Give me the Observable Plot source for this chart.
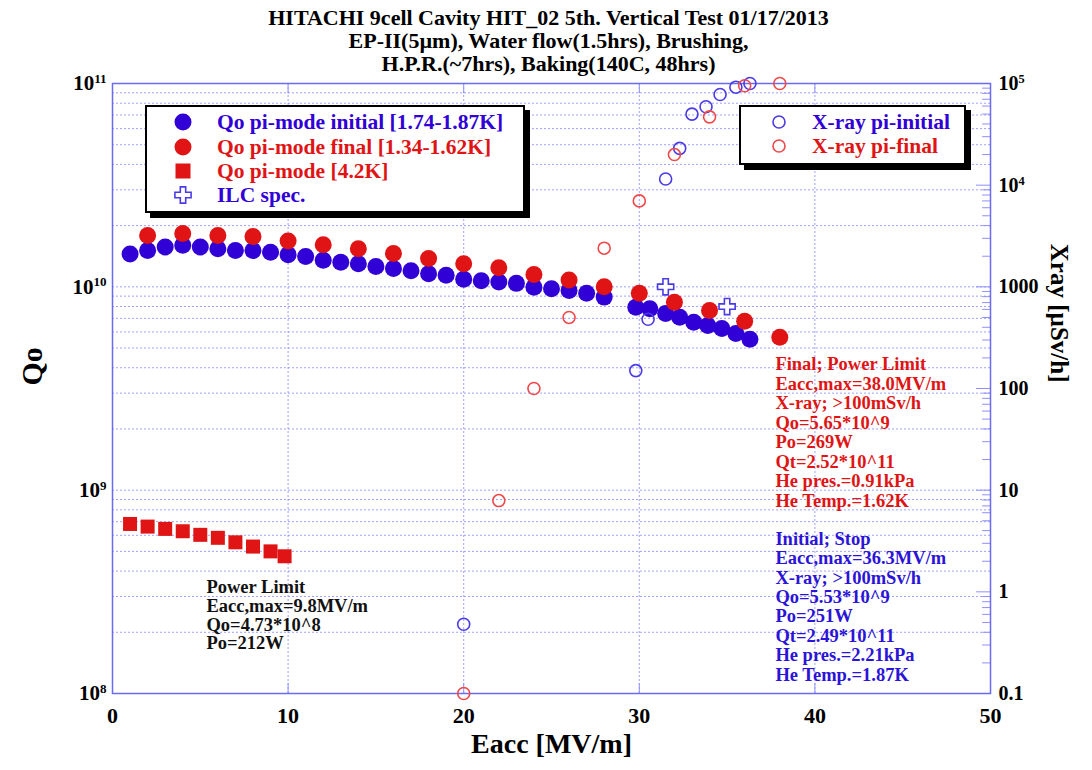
<!DOCTYPE html>
<html><head><meta charset="utf-8">
<script src="https://cdn.jsdelivr.net/npm/d3@7"></script>
<script src="https://cdn.jsdelivr.net/npm/@observablehq/plot@0.6"></script>
<style>
body{margin:0;background:#fff;}
#wrap{position:relative;width:1092px;height:770px;font-family:"Liberation Serif","Times New Roman",serif;}
.leg{position:absolute;box-sizing:border-box;background:#fff;border:2px solid #000;box-shadow:5px 5px 0 #000;}
.row{position:absolute;font-weight:bold;font-size:21.5px;line-height:20px;white-space:nowrap;}
.sym{position:absolute;overflow:visible;}
</style></head><body><div id="wrap"></div>
<script>
// ---------- data ----------
const titleLines = [
  "HITACHI 9cell Cavity HIT_02 5th. Vertical Test 01/17/2013",
  "EP-II(5\u00b5m), Water flow(1.5hrs), Brushing,",
  "H.P.R.(~7hrs), Baking(140C, 48hrs)"
];
const xTicks = [0, 10, 20, 30, 40, 50];
const qTicks = [1e8, 1e9, 1e10, 1e11];
const xrayTicks = [0.1, 1, 10, 100, 1000, 1e4, 1e5];
const xrayTickLabels = ["0.1", "1", "10", "100", "1000", "10^4", "10^5"];

// Qo pi-mode initial [1.74-1.87K]
const initE = [1,2,3,4,5,6,7,8,9,10,11,12,13,14,15,16,17,18,19,20,21,22,23,24,25,26,27,28,
  29.8,30.6,31.5,32.3,33.1,33.9,34.7,35.5,36.3];
const initQ = [1.45e10,1.51e10,1.57e10,1.60e10,1.57e10,1.54e10,1.51e10,1.51e10,1.48e10,1.44e10,
  1.41e10,1.35e10,1.32e10,1.30e10,1.26e10,1.23e10,1.20e10,1.16e10,1.14e10,1.09e10,
  1.07e10,1.055e10,1.04e10,9.96e9,9.78e9,9.59e9,9.3e9,8.9e9,
  7.94e9,7.8e9,7.4e9,7.08e9,6.69e9,6.45e9,6.24e9,5.89e9,5.53e9];
// Qo pi-mode final [1.34-1.62K]
const finalE = [2,4,6,8,10,12,14,16,18,20,22,24,26,28,30,32,34,36,38];
const finalQ = [1.79e10,1.83e10,1.79e10,1.77e10,1.68e10,1.61e10,1.54e10,1.46e10,1.38e10,1.30e10,
  1.24e10,1.15e10,1.08e10,1.0e10,9.3e9,8.4e9,7.64e9,6.77e9,5.65e9];
// Qo pi-mode [4.2K]
const k42E = [1,2,3,4,5,6,7,8,9,9.8];
const k42Q = [6.82e8,6.62e8,6.45e8,6.28e8,6.03e8,5.83e8,5.54e8,5.28e8,5.0e8,4.73e8];
// ILC spec
const ilcE = [31.5, 35];
const ilcQ = [1e10, 8e9];
// X-ray [uSv/h]
const xrInitE = [20, 29.8, 30.5, 31.5, 32.3, 33.0, 33.8, 34.6, 35.5, 36.3];
const xrInitV = [0.48, 150, 480, 1.15e4, 2.3e4, 5.0e4, 5.9e4, 7.8e4, 9.2e4, 1.0e5];
const xrFinalE = [20, 22, 24, 26, 28, 30, 32, 34, 36, 38];
const xrFinalV = [0.1, 7.9, 100, 500, 2400, 7000, 2.0e4, 4.7e4, 9.5e4, 1.0e5];

const noteK42 = "Power Limit\nEacc,max=9.8MV/m\nQo=4.73*10^8\nPo=212W";
const noteFinal = "Final; Power Limit\nEacc,max=38.0MV/m\nX-ray; >100mSv/h\nQo=5.65*10^9\nPo=269W\nQt=2.52*10^11\nHe pres.=0.91kPa\nHe Temp.=1.62K";
const noteInit = "Initial; Stop\nEacc,max=36.3MV/m\nX-ray; >100mSv/h\nQo=5.53*10^9\nPo=251W\nQt=2.49*10^11\nHe pres.=2.21kPa\nHe Temp.=1.87K";

// ---------- helpers ----------
const BLUE = "#3000d6", RED = "#e01414", BLUE_O = "#4a3be6", RED_O = "#f04848";
const GRID = "#8f8fff";
// right axis (0.1 .. 1e5, 6 decades) shares the frame with left (1e8 .. 1e11, 3 decades)
const x2q = v => Math.pow(10, 8.5) * Math.sqrt(v);
const zip = (a, b) => a.map((v, i) => ({x: v, y: b[i]}));
const xrayLabel = d => {
  const i = xrayTicks.findIndex(v => Math.abs(x2q(v) - d) / d < 1e-6);
  return i < 0 ? "" : xrayTickLabels[i];
};

const leftMinor = [];
for (let n = 8; n <= 10; n++) for (let k = 1; k <= 9; k++) {
  const v = k * Math.pow(10, n); if (v > 1e8 && v < 1e11) leftMinor.push(v);
}
const rightMinor = [];
for (let n = -1; n <= 4; n++) for (let k = 2; k <= 9; k++) rightMinor.push(x2q(k * Math.pow(10, n)));

const chart = Plot.plot({
  width: 1092, height: 770,
  marginLeft: 112, marginRight: 102, marginTop: 83, marginBottom: 77,
  x: {domain: [0, 50]},
  y: {type: "log", domain: [1e8, 1e11]},
  style: {fontFamily: "Liberation Serif, Times New Roman, serif", background: "white", color: "black", overflow: "visible"},
  marks: [
    Plot.gridY(leftMinor, {stroke: GRID, strokeOpacity: 0.85, strokeDasharray: "2,2"}),
    Plot.gridX([10, 20, 30, 40], {stroke: GRID, strokeOpacity: 0.85, strokeDasharray: "2,2"}),
    Plot.ruleY(rightMinor, {x1: 49.55, x2: 50, stroke: GRID}),
    Plot.ruleY(xrayTicks.map(x2q), {x1: 49.2, x2: 50, stroke: GRID}),
    Plot.ruleX([10, 20, 30, 40], {y1: 1e8, y2: 1.12e8, stroke: GRID}),
    Plot.ruleX([10, 20, 30, 40], {y1: 1e11, y2: 0.89e11, stroke: GRID}),
    Plot.frame({stroke: "#6a6af2", strokeWidth: 1.5}),
    Plot.axisX({ticks: xTicks, tickSize: 0, tickPadding: 14, fontSize: 22, fontWeight: "bold", label: null}),
    Plot.axisY({anchor: "left", ticks: qTicks, tickSize: 0, tickPadding: 6, fontSize: 21, fontWeight: "bold", label: null,
      tickFormat: d => "10^" + Math.round(Math.log10(d))}),
    Plot.axisY({anchor: "right", ticks: xrayTicks.map(x2q), tickSize: 0, tickPadding: 8, fontSize: 20, fontWeight: "bold", label: null,
      tickFormat: xrayLabel}),
    // data
    Plot.dot(zip(k42E, k42Q), {x: "x", y: "y", symbol: "square", r: 7.9, fill: RED}),
    Plot.dot(zip(initE, initQ), {x: "x", y: "y", r: 8.5, fill: BLUE}),
    Plot.dot(zip(finalE, finalQ), {x: "x", y: "y", r: 8.5, fill: RED}),
    Plot.dot(zip(ilcE, ilcQ), {x: "x", y: "y", symbol: "cross", r: 6.8, fill: "white", stroke: BLUE_O, strokeWidth: 1.6}),
    Plot.dot(zip(xrInitE, xrInitV), {x: "x", y: d => x2q(d.y), r: 6, fill: "none", stroke: BLUE_O, strokeWidth: 1.6}),
    Plot.dot(zip(xrFinalE, xrFinalV), {x: "x", y: d => x2q(d.y), r: 6, fill: "none", stroke: RED_O, strokeWidth: 1.6}),
    // annotations
    Plot.text([noteK42], {x: 5.35, y: 3.64e8, lineAnchor: "top", textAnchor: "start", fontSize: 18.5, fontWeight: "bold", lineHeight: 1.02, fill: "#111"}),
    Plot.text([noteFinal], {x: 37.75, y: 4.56e9, lineAnchor: "top", textAnchor: "start", fontSize: 18.5, fontWeight: "bold", lineHeight: 1.055, fill: RED}),
    Plot.text([noteInit], {x: 37.75, y: 6.3e8, lineAnchor: "top", textAnchor: "start", fontSize: 18.5, fontWeight: "bold", lineHeight: 1.05, fill: "#2b14d8"}),
    // titles & axis labels
    Plot.text([titleLines.join("\n")], {frameAnchor: "top", lineAnchor: "bottom", dx: -3, dy: -13, fontSize: 22, fontWeight: "bold", lineHeight: 1.03, fill: "black"}),
    Plot.text(["Qo"], {frameAnchor: "left", dx: -80, dy: -3, rotate: -90, fontSize: 30, fontWeight: "bold", fill: "black"}),
    Plot.text(["Xray [\u00b5Sv/h]"], {frameAnchor: "right", dx: 68, dy: -6, rotate: 90, fontSize: 25, fontWeight: "bold", fill: "black"}),
    Plot.text(["Eacc [MV/m]"], {frameAnchor: "bottom", dy: 59, fontSize: 28, fontWeight: "bold", fill: "black"})
  ]
});

// superscripts like 10^11
d3.select(chart).selectAll("text").each(function() {
  const el = this;
  if (el.querySelector("tspan")) return;
  const t = el.textContent;
  const m = /^(10)\^(\d+)$/.exec(t);
  if (!m) return;
  el.textContent = "";
  const ns = "http://www.w3.org/2000/svg";
  const a = document.createElementNS(ns, "tspan"); a.textContent = m[1];
  const b = document.createElementNS(ns, "tspan"); b.textContent = m[2];
  b.setAttribute("dy", "-0.55em"); b.setAttribute("font-size", "0.62em");
  el.appendChild(a); el.appendChild(b);
});

const wrap = document.getElementById("wrap");
wrap.appendChild(chart);

// ---------- legends ----------
const legendLeft = [
  {label: "Qo pi-mode initial [1.74-1.87K]", color: BLUE, sym: "dot"},
  {label: "Qo pi-mode final [1.34-1.62K]", color: RED, sym: "dot"},
  {label: "Qo pi-mode [4.2K]", color: RED, sym: "square"},
  {label: "ILC spec.", color: BLUE, sym: "cross"}
];
const legendRight = [
  {label: "X-ray pi-initial", color: BLUE, sym: "ring", sc: BLUE_O},
  {label: "X-ray pi-final", color: RED, sym: "ring", sc: RED_O}
];
function symbolSVG(s, c, sc) {
  if (s === "dot") return `<circle r="8.5" fill="${c}"/>`;
  if (s === "square") return `<rect x="-7.5" y="-7.5" width="15" height="15" fill="${c}"/>`;
  if (s === "ring") return `<circle r="6" fill="none" stroke="${sc}" stroke-width="1.6"/>`;
  if (s === "cross") return `<path d="${d3.symbol(d3.symbolCross, 145)()}" fill="white" stroke="${BLUE_O}" stroke-width="1.6"/>`;
}
function makeLegend(items, box, symX, textX, rows) {
  const d = document.createElement("div");
  d.className = "leg";
  Object.assign(d.style, {left: box[0] + "px", top: box[1] + "px", width: box[2] + "px", height: box[3] + "px"});
  items.forEach((it, i) => {
    const s = document.createElement("div");
    s.innerHTML = `<svg class="sym" width="1" height="1" style="left:${symX}px;top:${rows[i]}px">${symbolSVG(it.sym, it.color, it.sc)}</svg>`;
    d.appendChild(s.firstChild);
    const r = document.createElement("div");
    r.className = "row";
    r.style.left = textX + "px"; r.style.top = (rows[i] - 10) + "px"; r.style.color = it.color;
    r.textContent = it.label;
    d.appendChild(r);
  });
  wrap.appendChild(d);
}
makeLegend(legendLeft, [145, 105, 380, 108], 36, 70, [15, 40, 64, 88]);
makeLegend(legendRight, [739, 105, 227, 60], 38, 71, [15, 38.5]);
</script></body></html>
